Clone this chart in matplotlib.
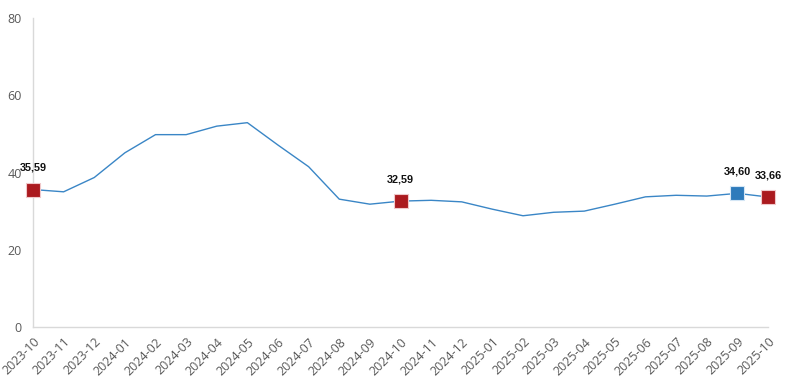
import matplotlib
matplotlib.use("Agg")
import matplotlib.pyplot as plt

months = ["2023-10", "2023-11", "2023-12", "2024-01", "2024-02", "2024-03", "2024-04",
          "2024-05", "2024-06", "2024-07", "2024-08", "2024-09", "2024-10", "2024-11",
          "2024-12", "2025-01", "2025-02", "2025-03", "2025-04", "2025-05", "2025-06",
          "2025-07", "2025-08", "2025-09", "2025-10"]
values = [35.59, 35.0, 38.7, 45.1, 49.8, 49.8, 52.0, 52.9, 47.1, 41.5, 33.1, 31.8, 32.59,
          32.8, 32.4, 30.5, 28.8, 29.7, 30.0, 31.8, 33.7, 34.1, 33.9, 34.60, 33.66]
highlight_idx = [0, 12, 23, 24]
highlight_colors = ["#ab1a1f", "#ab1a1f", "#2e7bbb", "#ab1a1f"]
highlight_edges = ["#f0c8ca", "#f0c8ca", "#d4e6f5", "#f0c8ca"]

fig = plt.figure(figsize=(7.91, 3.86), dpi=100)
ax = fig.add_axes([33 / 791, 1 - 327 / 386, 735 / 791, 309 / 386])

x = list(range(len(months)))
ax.plot(x, values, color="#3a86c6", linewidth=1.0, zorder=2)

for i, c, ec in zip(highlight_idx, highlight_colors, highlight_edges):
    ax.plot(x[i], values[i], marker="s", markersize=10, color=c,
            markeredgecolor=ec, markeredgewidth=0.8, zorder=3, clip_on=False)
    ax.annotate(f"{values[i]:.2f}".replace(".", ","), (x[i], values[i]),
                xytext=(0, 12), textcoords="offset points", ha="center", va="bottom",
                fontsize=7.8, fontweight="bold", family="Liberation Sans", color="#111111")

ax.set_xlim(0, len(months) - 1)
ax.set_ylim(0, 80)
ax.set_yticks([0, 20, 40, 60, 80])
ax.set_xticks(x)
ax.set_xticklabels(months, rotation=45, ha="right", rotation_mode="anchor")
ax.tick_params(length=0, labelsize=9, labelcolor="#595959")
ax.tick_params(axis="x", pad=6)
ax.tick_params(axis="y", pad=8)
for lab in ax.get_xticklabels() + ax.get_yticklabels():
    lab.set_family("Open Sans")

for s in ["top", "right"]:
    ax.spines[s].set_visible(False)
for s in ["left", "bottom"]:
    ax.spines[s].set_color("#d9d9d9")
    ax.spines[s].set_linewidth(1.0)

fig.savefig("out.png", dpi=100)
